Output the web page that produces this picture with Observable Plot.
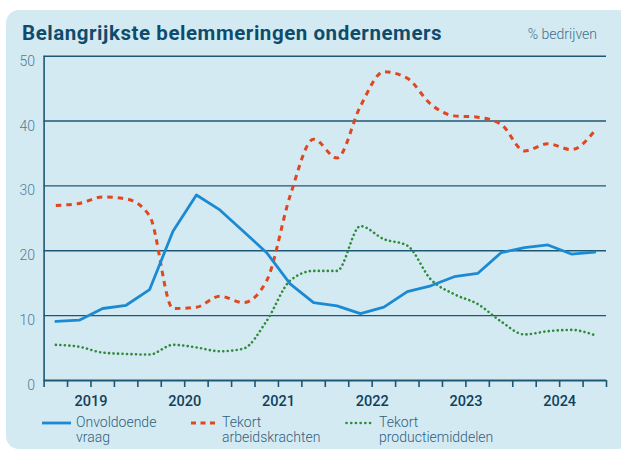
<!DOCTYPE html>
<html>
<head>
<meta charset="utf-8">
<script src="https://cdn.jsdelivr.net/npm/d3@7"></script>
<script src="https://cdn.jsdelivr.net/npm/@observablehq/plot@0.6"></script>
<style>
  html, body { margin: 0; padding: 0; background: #ffffff; }
  #wrap { position: relative; width: 621px; height: 451px; overflow: hidden; font-family: Roboto, "Noto Sans", sans-serif; }
  #panel { position: absolute; left: 6px; top: 10px; width: 626px; height: 439px; background: #d4eaf3; border-radius: 13px; }
  #title { position: absolute; left: 22px; top: 21px; font-size: 20.5px; font-weight: 700; color: #0f4c6c; letter-spacing: 0.55px; white-space: nowrap; }
  #unit { position: absolute; right: 24px; top: 26px; font-size: 14px; font-weight: 300; color: #3e6f89; }
  #chart { position: absolute; left: 0; top: 0; }
  #legend { position: absolute; left: 0; top: 415px; width: 621px; height: 36px; }
  .item { position: absolute; top: 0; display: flex; align-items: flex-start; }
  .item svg { margin-top: 2px; }
  .lab { font-size: 14px; font-weight: 300; color: #2f5f7c; line-height: 14.5px; margin-left: 5px; }
</style>
</head>
<body>
<div id="wrap">
  <div id="panel"></div>
  <div id="title">Belangrijkste belemmeringen ondernemers</div>
  <div id="unit">% bedrijven</div>
  <div id="chart"></div>
  <div id="legend"></div>
</div>
<script>
// Quarterly data 2019 Q1 – 2024 Q4 (% bedrijven)
const years = ["2019", "2020", "2021", "2022", "2023", "2024"];
const yTicks = [0, 10, 20, 30, 40, 50];
const seriesNames = ["Onvoldoende vraag", "Tekort arbeidskrachten", "Tekort productiemiddelen"];
const onvoldoendeVraag = [9.1, 9.3, 11.1, 11.6, 14.0, 23.0, 28.6, 26.3, 23.0, 19.7, 14.9, 12.0,
                          11.5, 10.3, 11.3, 13.7, 14.6, 16.0, 16.5, 19.7, 20.5, 20.9, 19.5, 19.8];
const tekortArbeid =     [27.0, 27.3, 28.3, 28.0, 25.4, 11.1, 11.3, 13.0, 12.0, 15.4, 28.5, 37.2,
                          34.3, 42.3, 47.6, 46.6, 42.6, 40.8, 40.6, 39.5, 35.4, 36.5, 35.6, 38.5];
const tekortProductie =  [5.5, 5.2, 4.3, 4.1, 4.0, 5.5, 5.1, 4.5, 4.9, 9.2, 15.4, 16.9,
                          16.9, 23.8, 21.8, 20.8, 15.6, 13.3, 11.8, 9.1, 7.1, 7.6, 7.8, 7.0];

const colors = { blue: "#1b8ad3", red: "#e0471f", green: "#2f8c3b", grid: "#1e5774", axisText: "#4c7d97", year: "#123f5c" };

const toRows = (arr) => arr.map((v, i) => ({ q: i + 0.5, v }));
const quarterTicks = d3.range(0, years.length * 4 + 1);
const yearTicks = years.map((_, i) => i * 4 + 2);

const chart = Plot.plot({
  width: 621,
  height: 451,
  marginLeft: 43.6,
  marginRight: 15,
  marginTop: 55.7,
  marginBottom: 71,
  style: { background: "transparent", fontFamily: "Roboto, sans-serif", overflow: "visible" },
  x: { type: "linear", domain: [0, years.length * 4] },
  y: { domain: [0, 50] },
  marks: [
    Plot.ruleY(yTicks.filter(d => d > 0), { stroke: colors.grid, strokeWidth: 1.4 }),
    Plot.ruleY([0], { stroke: colors.grid, strokeWidth: 2 }),
    Plot.ruleX([0], { y1: 0, y2: 50, stroke: colors.grid, strokeWidth: 1.6 }),
    Plot.axisY({ ticks: yTicks, tickSize: 0, tickPadding: 9, dy: 5, fontSize: 14, fontWeight: 300, fill: colors.axisText, label: null }),
    Plot.axisX({ ticks: quarterTicks, tickSize: 7, tickFormat: () => "", stroke: colors.grid, strokeWidth: 1.6, label: null }),
    Plot.axisX({ ticks: yearTicks, tickSize: 0, tickPadding: 15, tickFormat: d => years[(d - 2) / 4], fontSize: 14.5, fontWeight: 500, fill: colors.year, label: null }),
    Plot.line(toRows(tekortProductie), { x: "q", y: "v", stroke: colors.green, strokeWidth: 2.6, strokeDasharray: "0.1 4.4", strokeLinecap: "round", curve: "monotone-x" }),
    Plot.line(toRows(tekortArbeid), { x: "q", y: "v", stroke: colors.red, strokeWidth: 3, strokeDasharray: "5.5 5", strokeLinecap: "butt", curve: "monotone-x" }),
    Plot.line(toRows(onvoldoendeVraag), { x: "q", y: "v", stroke: colors.blue, strokeWidth: 2.8, curve: "linear" })
  ]
});
document.getElementById("chart").appendChild(chart);

// Legend
const legendItems = [
  { left: 42, w: 29, color: colors.blue, dash: null, width: 2.8, cap: "butt", lines: ["Onvoldoende", "vraag"] },
  { left: 191, w: 26, color: colors.red, dash: "5 4.5", width: 3, cap: "butt", lines: ["Tekort", "arbeidskrachten"] },
  { left: 345, w: 29, color: colors.green, dash: "0.1 4.6", width: 2.6, cap: "round", lines: ["Tekort", "productiemiddelen"] }
];
const legend = document.getElementById("legend");
legendItems.forEach((it, k) => {
  const div = document.createElement("div");
  div.className = "item";
  div.style.left = it.left + "px";
  const ns = "http://www.w3.org/2000/svg";
  const svg = document.createElementNS(ns, "svg");
  svg.setAttribute("width", it.w);
  svg.setAttribute("height", 12);
  const ln = document.createElementNS(ns, "line");
  ln.setAttribute("x1", it.cap === "round" ? 1.5 : 0);
  ln.setAttribute("x2", it.w);
  ln.setAttribute("y1", 6);
  ln.setAttribute("y2", 6);
  ln.setAttribute("stroke", it.color);
  ln.setAttribute("stroke-width", it.width);
  ln.setAttribute("stroke-linecap", it.cap);
  if (it.dash) ln.setAttribute("stroke-dasharray", it.dash);
  svg.appendChild(ln);
  div.appendChild(svg);
  const lab = document.createElement("div");
  lab.className = "lab";
  lab.innerHTML = it.lines.join("<br>");
  lab.setAttribute("title", seriesNames[k]);
  div.appendChild(lab);
  legend.appendChild(div);
});
</script>
</body>
</html>
